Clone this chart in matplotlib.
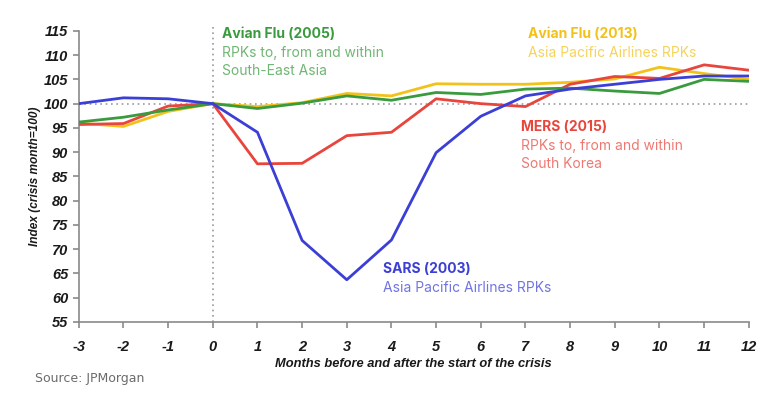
import matplotlib.pyplot as plt
import numpy as np

# months relative to crisis start
months = list(range(-3, 13))

sars_2003 = [100.0, 101.2, 101.0, 100.0, 94.1, 71.8, 63.7, 71.9, 89.9, 97.4, 101.6, 103.0, 104.0, 105.0, 105.7, 105.7]
avian_2005 = [96.2, 97.2, 98.7, 100.0, 99.0, 100.1, 101.6, 100.7, 102.3, 101.9, 103.0, 103.2, 102.6, 102.1, 105.0, 104.6]
avian_2013 = [96.0, 95.3, 98.4, 100.0, 99.4, 100.2, 102.1, 101.6, 104.1, 104.0, 104.0, 104.4, 105.1, 107.5, 106.2, 105.0]
mers_2015 = [95.7, 95.9, 99.5, 100.0, 87.6, 87.7, 93.4, 94.1, 101.0, 100.0, 99.4, 104.0, 105.6, 105.2, 108.0, 106.9]

c_blue = "#3b3fd6"
c_green = "#3a9a3e"
c_yellow = "#f2c21b"
c_red = "#e8453c"

plt.rcParams["font.family"] = ["Liberation Sans", "DejaVu Sans"]
plt.rcParams["axes.unicode_minus"] = False

fig = plt.figure(figsize=(7.8, 3.96), dpi=100)
ax = fig.add_axes([0.101, 0.187, 0.859, 0.735])

ax.axhline(100, color="#9a9aa8", lw=1.2, ls=(0, (1, 2.2)), zorder=1)
ax.plot([0, 0], [55, 116.4], color="#9a9aa8", lw=1.2, ls=(0, (1, 2.2)), zorder=1, clip_on=False)

ax.plot(months, avian_2013, color=c_yellow, lw=2, zorder=2)
ax.plot(months, mers_2015, color=c_red, lw=2, zorder=3)
ax.plot(months, avian_2005, color=c_green, lw=2, zorder=4)
ax.plot(months, sars_2003, color=c_blue, lw=2, zorder=5)

ax.set_xlim(-3, 12)
ax.set_ylim(55, 115)
ax.set_xticks(months)
ax.set_yticks(range(55, 116, 5))
ax.tick_params(axis="both", colors="#8a8a8a", length=4, width=1.2, labelcolor="#1a1a1a",
               labelsize=10.5)
ax.tick_params(axis="x", pad=9)
for lab in ax.get_xticklabels() + ax.get_yticklabels():
    lab.set_fontweight("bold")
    lab.set_fontstyle("italic")

for s in ["top", "right"]:
    ax.spines[s].set_visible(False)
for s in ["left", "bottom"]:
    ax.spines[s].set_color("#8a8a8a")
    ax.spines[s].set_linewidth(1.2)

ax.set_ylabel("Index (crisis month=100)", fontsize=8.6, fontweight="bold", fontstyle="italic",
              color="#1a1a1a", labelpad=2)
ax.set_xlabel("Months before and after the start of the crisis", fontsize=9.3,
              fontweight="bold", fontstyle="italic", color="#1a1a1a", labelpad=3)

ann_font = ["Inter", "DejaVu Sans"]


def note(x, y, title, lines, color):
    ax.text(x, y, title, color=color, fontsize=10, fontweight="bold", family=ann_font,
            va="top", ha="left")
    ax.text(x, y - 3.9, "\n".join(lines), color=color, alpha=0.72, fontsize=10,
            family=ann_font, va="top", ha="left", linespacing=1.4)


note(0.2, 115.8, "Avian Flu (2005)", ["RPKs to, from and within", "South-East Asia"], c_green)
note(7.05, 115.8, "Avian Flu (2013)", ["Asia Pacific Airlines RPKs"], c_yellow)
note(6.9, 96.7, "MERS (2015)", ["RPKs to, from and within", "South Korea"], c_red)
note(3.8, 67.4, "SARS (2003)", ["Asia Pacific Airlines RPKs"], c_blue)

fig.text(0.045, 0.035, "Source: JPMorgan", fontsize=9, color="#6b6b6b",
         family=["DejaVu Sans"])

fig.savefig("out.png", dpi=100)
